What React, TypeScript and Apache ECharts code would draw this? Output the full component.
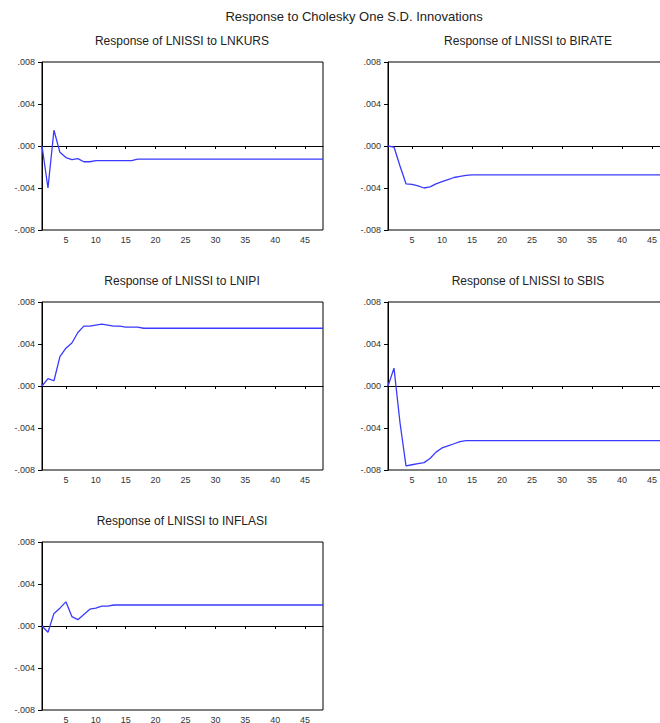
import React, { useEffect, useRef } from "react";
import * as echarts from "echarts";

const periods = [1,2,3,4,5,6,7,8,9,10,11,12,13,14,15,16,17,18,19,20,21,22,23,24,25,26,27,28,29,30,31,32,33,34,35,36,37,38,39,40,41,42,43,44,45,46,47,48];

const lnkurs = [0, -0.0040, 0.0015, -0.0006, -0.0011, -0.0013, -0.0012, -0.0015, -0.0015, -0.0014,
  -0.0014, -0.0014, -0.0014, -0.0014, -0.0014, -0.0014, -0.00125, -0.00125, -0.00125, -0.00125,
  -0.00125, -0.00125, -0.00125, -0.00125, -0.00125, -0.00125, -0.00125, -0.00125, -0.00125, -0.00125,
  -0.00125, -0.00125, -0.00125, -0.00125, -0.00125, -0.00125, -0.00125, -0.00125, -0.00125, -0.00125,
  -0.00125, -0.00125, -0.00125, -0.00125, -0.00125, -0.00125, -0.00125, -0.00125];

const birate = [0, -0.0001, -0.0019, -0.0036, -0.00365, -0.0038, -0.0040, -0.0039, -0.0036, -0.0034,
  -0.0032, -0.0030, -0.0029, -0.0028, -0.00275, -0.00275, -0.00275, -0.00275, -0.00275, -0.00275,
  -0.00275, -0.00275, -0.00275, -0.00275, -0.00275, -0.00275, -0.00275, -0.00275, -0.00275, -0.00275,
  -0.00275, -0.00275, -0.00275, -0.00275, -0.00275, -0.00275, -0.00275, -0.00275, -0.00275, -0.00275,
  -0.00275, -0.00275, -0.00275, -0.00275, -0.00275, -0.00275, -0.00275, -0.00275];

const lnipi = [0, 0.0007, 0.0005, 0.0028, 0.0036, 0.0041, 0.0051, 0.0057, 0.0057, 0.0058,
  0.0059, 0.0058, 0.0057, 0.0057, 0.0056, 0.0056, 0.0056, 0.0055, 0.0055, 0.0055,
  0.0055, 0.0055, 0.0055, 0.0055, 0.0055, 0.0055, 0.0055, 0.0055, 0.0055, 0.0055,
  0.0055, 0.0055, 0.0055, 0.0055, 0.0055, 0.0055, 0.0055, 0.0055, 0.0055, 0.0055,
  0.0055, 0.0055, 0.0055, 0.0055, 0.0055, 0.0055, 0.0055, 0.0055];

const sbis = [0, 0.0017, -0.0035, -0.0076, -0.0075, -0.0074, -0.0073, -0.0069, -0.0063, -0.0059,
  -0.0057, -0.0055, -0.0053, -0.0052, -0.0052, -0.0052, -0.0052, -0.0052, -0.0052, -0.0052,
  -0.0052, -0.0052, -0.0052, -0.0052, -0.0052, -0.0052, -0.0052, -0.0052, -0.0052, -0.0052,
  -0.0052, -0.0052, -0.0052, -0.0052, -0.0052, -0.0052, -0.0052, -0.0052, -0.0052, -0.0052,
  -0.0052, -0.0052, -0.0052, -0.0052, -0.0052, -0.0052, -0.0052, -0.0052];

const inflasi = [0, -0.0006, 0.0012, 0.0017, 0.0023, 0.0009, 0.0006, 0.0011, 0.0016, 0.0017,
  0.0019, 0.0019, 0.0020, 0.0020, 0.0020, 0.0020, 0.0020, 0.0020, 0.0020, 0.0020,
  0.0020, 0.0020, 0.0020, 0.0020, 0.0020, 0.0020, 0.0020, 0.0020, 0.0020, 0.0020,
  0.0020, 0.0020, 0.0020, 0.0020, 0.0020, 0.0020, 0.0020, 0.0020, 0.0020, 0.0020,
  0.0020, 0.0020, 0.0020, 0.0020, 0.0020, 0.0020, 0.0020, 0.0020];

const xTicks = [5, 10, 15, 20, 25, 30, 35, 40, 45];
const mainTitle = "Response to Cholesky One S.D. Innovations";
const panelTitles = [
  "Response of LNISSI to LNKURS",
  "Response of LNISSI to BIRATE",
  "Response of LNISSI to LNIPI",
  "Response of LNISSI to SBIS",
  "Response of LNISSI to INFLASI",
];
const panelSeries = [lnkurs, birate, lnipi, sbis, inflasi];

const FONT = "'Liberation Sans', Arial, Helvetica, sans-serif";

const layout = [
  { left: 42, top: 62, width: 281 },
  { left: 388, top: 62, width: 282 },
  { left: 42, top: 302, width: 281 },
  { left: 388, top: 302, width: 282 },
  { left: 42, top: 542, width: 281 },
];
const PH = 168;

export default function App() {
  const ref = useRef<HTMLDivElement>(null);
  useEffect(() => {
    if (!ref.current) return;
    const chart = echarts.init(ref.current, null, { renderer: "svg" });
    const grids: any[] = [];
    const xAxes: any[] = [];
    const yAxes: any[] = [];
    const series: any[] = [];
    const graphics: any[] = [
      {
        type: "text",
        x: 354,
        y: 16,
        style: {
          text: mainTitle,
          font: `13px ${FONT}`,
          fill: "#222",
          textAlign: "center",
          textVerticalAlign: "middle",
        },
      },
    ];
    layout.forEach((g, i) => {
      grids.push({
        left: g.left,
        top: g.top,
        width: g.width,
        height: PH,
        show: true,
        borderColor: "#000",
        borderWidth: 1,
        backgroundColor: "transparent",
        containLabel: false,
        outerBoundsMode: "none",
      });
      xAxes.push({
        type: "value",
        gridIndex: i,
        min: 1,
        max: 48,
        axisLine: { show: true, lineStyle: { color: "#000", width: 1 } },
        axisTick: { show: true, customValues: xTicks, length: 3, lineStyle: { color: "#000" } },
        axisLabel: {
          show: true,
          customValues: xTicks,
          fontSize: 9,
          color: "#333",
          fontFamily: FONT,
          margin: 5,
        },
        splitLine: { show: false },
      });
      yAxes.push({
        type: "value",
        gridIndex: i,
        min: -0.008,
        max: 0.008,
        interval: 0.004,
        axisLine: { show: true, lineStyle: { color: "#000", width: 1 } },
        axisTick: { show: true, length: 4, lineStyle: { color: "#000" } },
        axisLabel: {
          fontSize: 9,
          color: "#333",
          fontFamily: FONT,
          margin: 7,
          formatter: (v: number) => {
            const s = (Math.round(v * 1000) / 1000).toFixed(3);
            return s.replace("0.", ".");
          },
        },
        splitLine: { show: false },
      });
      series.push({
        type: "line",
        xAxisIndex: i,
        yAxisIndex: i,
        data: periods.map((p, k) => [p, panelSeries[i][k]]),
        showSymbol: false,
        symbol: "none",
        lineStyle: { color: "#3a3aff", width: 1.3 },
        z: 3,
        markLine: {
          silent: true,
          symbol: "none",
          label: { show: false },
          lineStyle: { color: "#000", width: 1.2, type: "solid" },
          data: [{ yAxis: 0 }],
          z: 2,
        },
      });
      graphics.push({
        type: "text",
        x: g.left + 140,
        y: g.top - 21,
        style: {
          text: panelTitles[i],
          font: `12px ${FONT}`,
          fill: "#222",
          textAlign: "center",
          textVerticalAlign: "middle",
        },
      });
    });
    chart.setOption({
      animation: false,
      backgroundColor: "#fff",
      grid: grids,
      xAxis: xAxes,
      yAxis: yAxes,
      series,
      graphic: graphics,
    });
    return () => chart.dispose();
  }, []);
  return (
    <div
      ref={ref}
      style={{ position: "fixed", left: 0, top: 0, width: 660, height: 723 }}
    />
  );
}
